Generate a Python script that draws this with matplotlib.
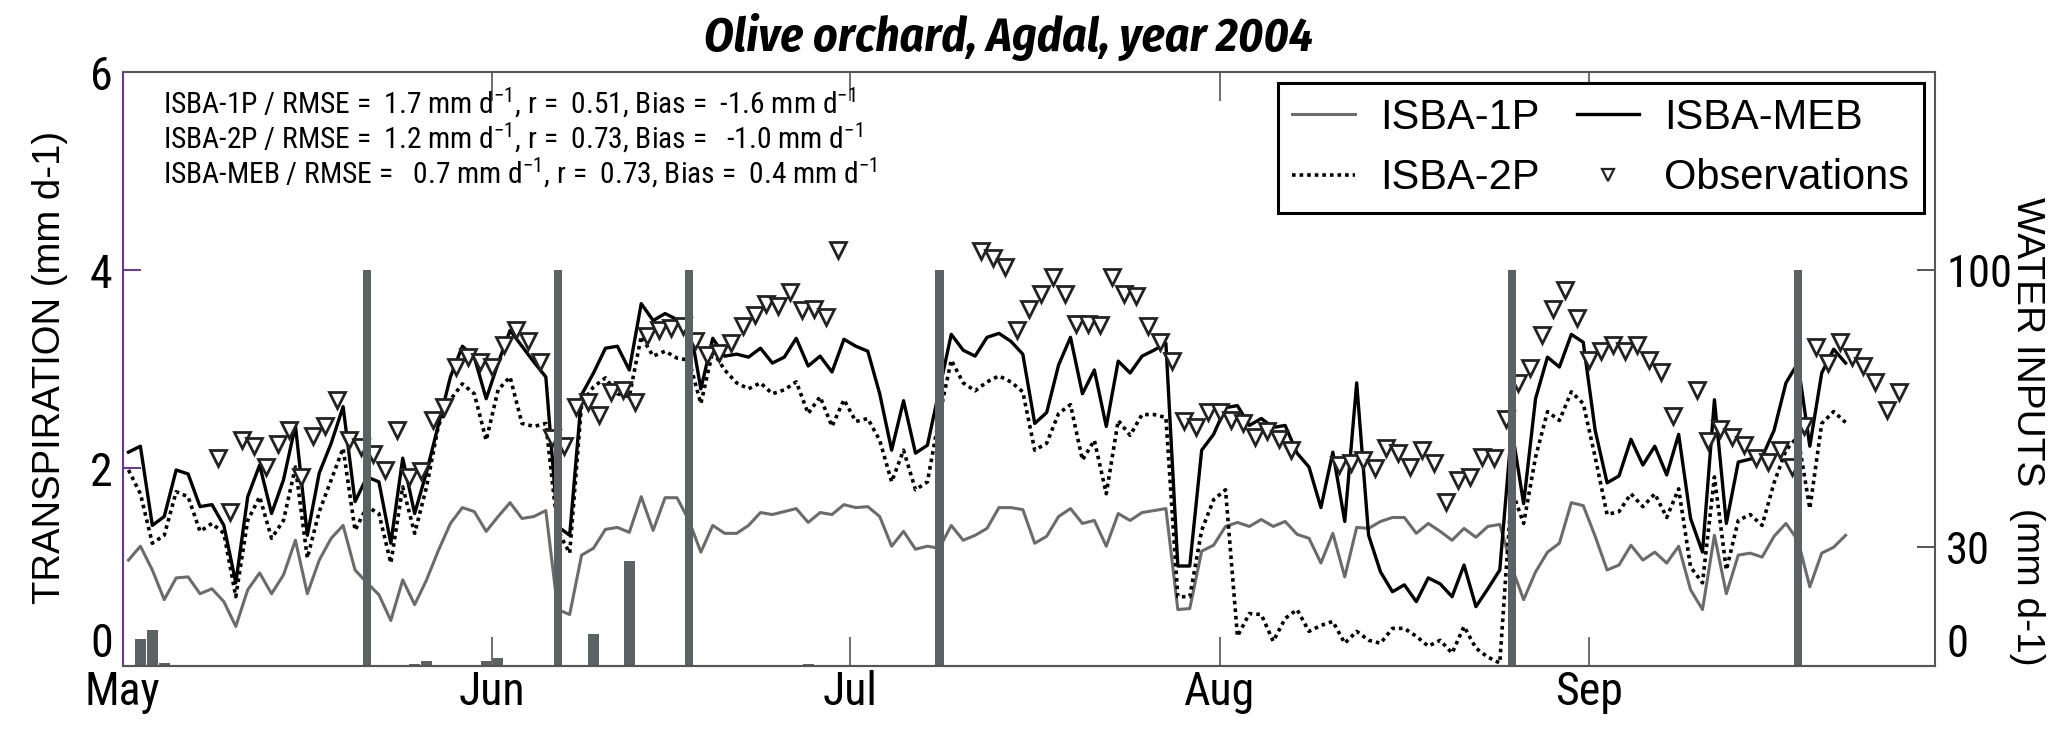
import numpy as np
import matplotlib
matplotlib.use("Agg")
import matplotlib.pyplot as plt
import matplotlib.dates as mdates
from matplotlib.lines import Line2D
from matplotlib import font_manager

# daily simulated transpiration (mm/d), first value = 1 May 2004, plotted at noon
isba_1p = [1.07, 1.21, 0.97, 0.67, 0.89, 0.90, 0.73, 0.78, 0.65, 0.40, 0.77, 0.94, 0.73, 0.92, 1.27, 0.73, 1.07, 1.29, 1.42, 0.97, 0.84, 0.72, 0.46, 0.87, 0.62,
           0.87, 1.17, 1.44, 1.60, 1.56, 1.36, 1.51, 1.65, 1.49, 1.51, 1.57, 0.57, 0.52, 1.12, 1.19, 1.38, 1.40, 1.35, 1.71, 1.37, 1.70, 1.70, 1.47, 1.15, 1.42, 1.34,
           1.34, 1.42, 1.55, 1.53, 1.56, 1.59, 1.45, 1.55, 1.53, 1.63, 1.60, 1.61, 1.51, 1.21, 1.36, 1.18, 1.21, 1.19, 1.42, 1.27, 1.32, 1.39, 1.60, 1.60, 1.58,
           1.24, 1.31, 1.51, 1.59, 1.44, 1.47, 1.21, 1.54, 1.47, 1.55, 1.57, 1.59, 0.57, 0.58, 1.16, 1.22, 1.41, 1.45, 1.41, 1.48, 1.41, 1.46, 1.33, 1.29, 1.04,
           1.34, 0.90, 1.40, 1.39, 1.46, 1.50, 1.50, 1.34, 1.44, 1.36, 1.27, 1.39, 1.30, 1.41, 1.43, 1.00, 0.67, 0.95, 1.15, 1.24, 1.65, 1.62, 1.31, 0.97, 1.02,
           1.22, 1.07, 1.15, 1.04, 1.21, 0.77, 0.57, 1.32, 0.73, 1.12, 1.14, 1.10, 1.31, 1.44, 1.27, 0.80, 1.14, 1.20, 1.32]
isba_2p = [1.98, 1.74, 1.24, 1.32, 1.76, 1.71, 1.36, 1.44, 1.34, 0.70, 1.47, 1.71, 1.29, 1.47, 2.01, 1.09, 1.56, 1.88, 2.20, 1.37, 1.61, 1.54, 1.04, 1.81, 1.34,
           1.81, 2.43, 2.69, 2.85, 2.75, 2.28, 2.79, 2.92, 2.45, 2.42, 2.45, 1.37, 1.14, 2.65, 2.82, 2.91, 2.75, 2.72, 3.33, 3.13, 3.18, 3.11, 3.09, 2.65, 3.18, 2.99,
           2.86, 2.80, 2.86, 2.75, 2.79, 2.87, 2.55, 2.72, 2.42, 2.69, 2.47, 2.50, 2.28, 1.86, 2.18, 1.78, 1.86, 2.52, 3.09, 2.86, 2.78, 2.87, 2.93, 2.87, 2.77,
           2.18, 2.25, 2.55, 2.64, 2.08, 2.28, 1.74, 2.48, 2.33, 2.54, 2.54, 2.51, 0.70, 0.70, 1.37, 1.68, 1.78, 0.30, 0.53, 0.52, 0.25, 0.48, 0.57, 0.35, 0.41,
           0.45, 0.23, 0.35, 0.26, 0.23, 0.38, 0.38, 0.30, 0.20, 0.26, 0.13, 0.40, 0.18, 0.09, 0.03, 1.78, 1.44, 2.11, 2.57, 2.48, 2.77, 2.65, 2.11, 1.53, 1.56,
           1.74, 1.61, 1.74, 1.50, 1.79, 1.00, 0.84, 1.91, 0.97, 1.47, 1.53, 1.42, 1.85, 2.18, 2.32, 1.59, 2.45, 2.57, 2.46]
isba_meb = [2.16, 2.22, 1.42, 1.51, 1.98, 1.94, 1.61, 1.63, 1.42, 0.84, 1.71, 2.03, 1.54, 1.88, 2.43, 1.32, 1.95, 2.25, 2.62, 1.66, 1.91, 1.86, 1.24, 2.10, 1.54,
            1.96, 2.44, 2.92, 3.23, 3.12, 2.70, 3.06, 3.39, 3.23, 3.07, 2.92, 1.41, 1.32, 2.74, 2.96, 3.21, 3.23, 2.99, 3.66, 3.49, 3.56, 3.50, 3.49, 2.80, 3.31, 3.13,
            3.15, 3.12, 3.21, 3.06, 3.12, 3.31, 3.03, 3.13, 2.97, 3.30, 3.23, 3.18, 2.75, 2.18, 2.68, 2.15, 2.23, 2.79, 3.35, 3.19, 3.13, 3.32, 3.36, 3.28, 3.15,
            2.45, 2.56, 3.04, 3.32, 2.75, 2.99, 2.42, 3.08, 2.96, 3.13, 3.19, 3.26, 1.01, 1.01, 2.18, 2.34, 2.61, 2.63, 2.43, 2.50, 2.41, 2.43, 2.15, 2.01, 1.60,
            2.16, 1.46, 2.86, 1.32, 0.95, 0.75, 0.82, 0.65, 0.89, 0.83, 0.70, 1.02, 0.60, 0.78, 0.97, 2.40, 1.64, 2.70, 3.12, 3.02, 3.35, 3.27, 2.38, 1.85, 1.92,
            2.29, 2.03, 2.22, 1.93, 2.34, 1.49, 1.15, 2.69, 1.44, 2.06, 2.09, 2.11, 2.38, 2.86, 3.06, 2.22, 2.96, 3.20, 3.06]

# observed transpiration (mm/d), first value = 9 May 2004, nan = no data
nan = np.nan
obs = [2.10, 1.56, 2.28, 2.22, 2.01, 2.24, 2.38, 1.91, 2.32, 2.42, 2.69, 2.28, 2.21, 2.14, 1.98, 2.38, 1.91,
       1.97, 2.48, 2.62, 3.02, 3.12, 3.07, 3.02, 3.24, 3.39, 3.28, 3.07, 2.30, 2.22, 2.62, 2.67, 2.54, 2.77, 2.79, 2.67, 3.33, 3.39, 3.41, 3.43, 3.28, 3.14, 3.16,
       3.26, 3.43, 3.55, 3.66, 3.64, 3.78, 3.60, 3.61, 3.53, 4.20,
       nan, nan, nan, nan, nan, nan, nan, nan, nan, nan, nan,
       4.19, 4.12, 4.03, 3.39, 3.61, 3.76, 3.93, 3.76, 3.45, 3.45, 3.44, 3.93, 3.76, 3.74, 3.43, 3.27, 3.08, 2.47, 2.41, 2.57, 2.57, 2.48, 2.45, 2.31, 2.37, 2.29, 2.18,
       nan, nan, nan,
       2.03, 2.05, 2.08, 2.00, 2.20, 2.15, 2.01, 2.18, 2.05, 1.66, 1.88, 1.91, 2.11, 2.10, 2.50, 2.86, 3.01, 3.34, 3.61, 3.80, 3.52, 3.09, 3.18, 3.24, 3.18, 3.24, 3.09, 2.97, 2.53,
       nan,
       2.79, 2.27, 2.39, 2.31, 2.23, 2.10, 2.06, 2.18, 2.01, 2.42, 3.22, 3.06, 3.27, 3.12, 3.03, 2.87, 2.59, 2.77]

# water inputs (mm/d), day counted from 1 May
irrig_day = [20, 36, 47, 68, 116, 140]
irrig_mm = [100, 100, 100, 100, 100, 100]
rain_day = [1, 2, 3, 10, 14, 24, 25, 30, 31, 39, 42, 57, 83]
rain_mm = [6.7, 9.2, 0.8, 0.2, 0.2, 0.5, 1.2, 1.3, 2.1, 8.0, 26.5, 0.5, 0.3]

stats = ["ISBA-1P / RMSE =  1.7 mm d$^{-1}$, r =  0.51, Bias =  -1.6 mm d$^{-1}$",
         "ISBA-2P / RMSE =  1.2 mm d$^{-1}$, r =  0.73, Bias =   -1.0 mm d$^{-1}$",
         "ISBA-MEB / RMSE =   0.7 mm d$^{-1}$, r =  0.73, Bias =  0.4 mm d$^{-1}$"]

# condensed font if there is one, plain Liberation Sans otherwise
have = {f.name for f in font_manager.fontManager.ttflist}
narrow_name = next((n for n in ['Roboto Condensed', 'Archivo Narrow', 'Fira Sans Condensed', 'Liberation Sans']
                    if n in have), 'DejaVu Sans')
title_name = next((n for n in ['Fira Sans Condensed', 'Liberation Sans'] if n in have), 'DejaVu Sans')
narrow = [narrow_name, 'Liberation Sans', 'DejaVu Sans']
regular = ['Liberation Sans', 'DejaVu Sans']
plt.rcParams['font.family'] = narrow
plt.rcParams['mathtext.fontset'] = 'custom'
plt.rcParams['mathtext.rm'] = narrow_name

purple = '#7030a0'
edge = '#555555'
bar_col = '#5c6163'

day0 = np.datetime64('2004-05-01T00:00')
one_day = np.timedelta64(24, 'h')
half_day = np.timedelta64(12, 'h')
t_model = day0 + half_day + np.arange(len(isba_meb)) * one_day
t_obs = day0 + 8 * one_day + np.arange(len(obs)) * one_day

fig = plt.figure(figsize=(20.67, 7.43), dpi=100)
ax = fig.add_axes([0.05927, 0.10363, 0.87688, 0.79946])
ax2 = ax.twinx()

l1, = ax.plot(t_model, isba_1p, color='#6b6b6b', lw=2.2)
l2, = ax.plot(t_model, isba_2p, color='black', lw=2.6, linestyle=(0, (1, 1.1)))
l3, = ax.plot(t_model, isba_meb, color='black', lw=2.4)
l4, = ax.plot(t_obs, obs, linestyle='none', marker='v', ms=12, mfc='white',
              mec='#222222', mew=2.0)

ax2.bar(day0 + half_day + np.array(irrig_day) * one_day, irrig_mm, width=0.7, color=bar_col)
ax2.bar(day0 + half_day + np.array(rain_day) * one_day, rain_mm, width=0.9, color=bar_col)

ax.set_xlim(np.datetime64('2004-05-01'), np.datetime64('2004-09-30'))
ax.set_ylim(0, 6)
ax.set_yticks([0, 2, 4, 6])
ax2.set_ylim(0, 150)
ax2.set_yticks([0, 30, 100])
ax.xaxis.set_major_locator(mdates.MonthLocator())
ax.xaxis.set_major_formatter(mdates.DateFormatter('%b'))

ax.tick_params(axis='x', direction='in', length=21, width=1.2, color=edge, top=True,
               labelsize=33, pad=3)
ax.tick_params(axis='y', direction='in', length=13, width=1.4, color=purple, right=False,
               labelsize=33, pad=7)
ax2.tick_params(axis='y', direction='in', length=13, width=1.4, color=edge, labelsize=32, pad=8)
ax.yaxis.get_major_ticks()[0].label1.set_va('bottom')
ax2.yaxis.get_major_ticks()[0].label2.set_va('bottom')

ax.spines['left'].set_color(purple)
ax.spines['right'].set_visible(False)
for s in ['top', 'bottom']:
    ax.spines[s].set_color(edge)
for s in ['left', 'top']:
    ax2.spines[s].set_visible(False)
for s in ['right', 'bottom']:
    ax2.spines[s].set_color(edge)
for a in [ax, ax2]:
    for s in a.spines.values():
        s.set_linewidth(1.5)

stat_txt = []
for k, line in enumerate(stats):
    stat_txt.append(ax.text(0.0223, 0.930 - k * 0.0585, line, transform=ax.transAxes,
                            fontsize=22, va='baseline', ha='left'))

title = fig.text(0.488, 0.949, 'Olive orchard, Agdal, year 2004', ha='center', va='center',
                 fontsize=33, fontweight='bold', fontstyle='italic', family=[title_name, 'Liberation Sans'])
fig.text(0.0242, 0.505, 'TRANSPIRATION (mm d-1)', rotation=90, ha='center', va='center',
         fontsize=27.5, family=regular)
fig.text(0.9805, 0.419, 'WATER INPUTS  (mm d-1)', rotation=270, ha='center', va='center',
         fontsize=28, family=regular)

# scale title and stats text to the widths they have in the original (pixels)
renderer = fig.canvas.get_renderer()
w = title.get_window_extent(renderer).width
title.set_fontsize(title.get_fontsize() * 609.0 / w)
w = stat_txt[0].get_window_extent(renderer).width
for t in stat_txt:
    t.set_fontsize(t.get_fontsize() * 691.0 / w)

handles = [l1, l2, l3, Line2D([], [], linestyle='none', marker='v', ms=9, mfc='white', mec='#222222', mew=1.6)]
labels = ['ISBA-1P', 'ISBA-2P', 'ISBA-MEB', 'Observations']
leg = ax2.legend(handles, labels, ncol=2, loc='upper right', bbox_to_anchor=(0.9308, 0.8883),
                 bbox_transform=fig.transFigure, prop={'family': regular, 'size': 30},
                 fancybox=False, edgecolor='black', framealpha=1, handlelength=1.5,
                 handletextpad=0.6, columnspacing=0.9, labelspacing=0.5, borderpad=0.35,
                 borderaxespad=0)
leg.get_frame().set_linewidth(2.2)

fig.savefig('out.png', dpi=100)
